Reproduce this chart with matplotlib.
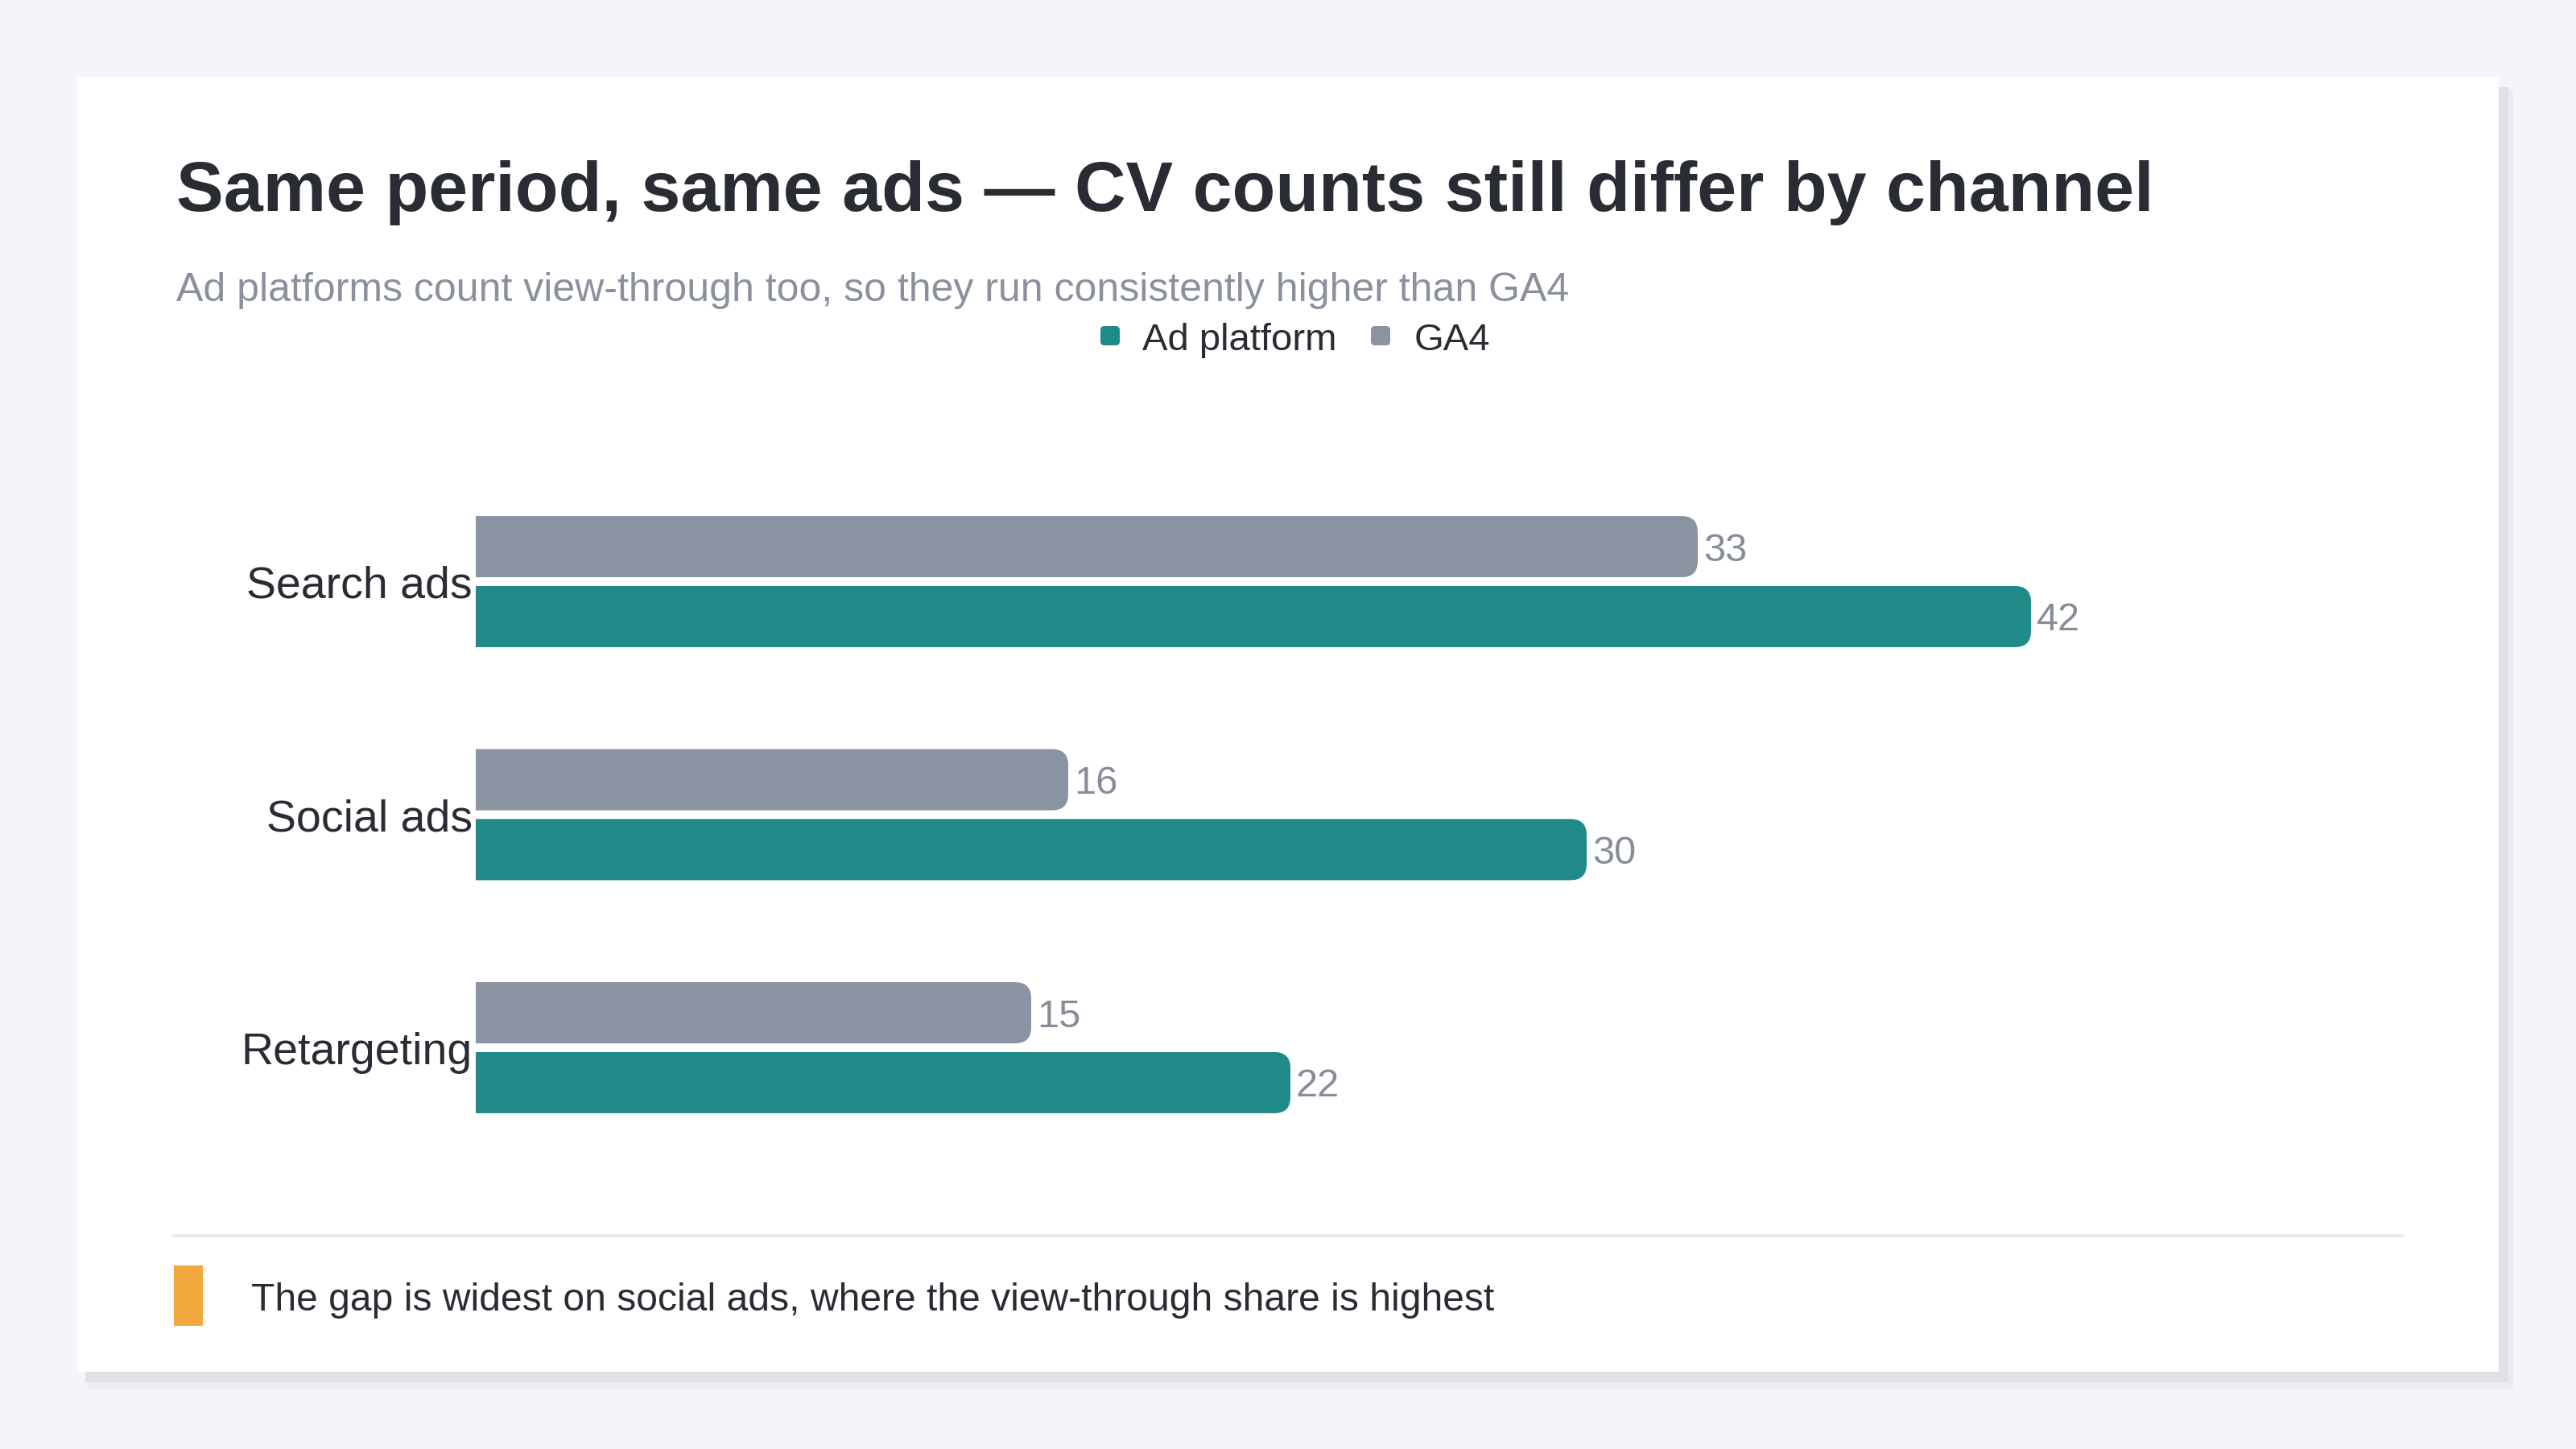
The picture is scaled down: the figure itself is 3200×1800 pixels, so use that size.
import matplotlib
matplotlib.use("Agg")
import matplotlib.pyplot as plt
from matplotlib.patches import FancyBboxPatch, Rectangle
from matplotlib.transforms import IdentityTransform
from matplotlib.lines import Line2D

# ---- data ----
categories = ["Search ads", "Social ads", "Retargeting"]
ad_platform = [42, 30, 22]
ga4 = [33, 16, 15]
series_names = ["Ad platform", "GA4"]

title = "Same period, same ads \u2014 CV counts still differ by channel"
subtitle = "Ad platforms count view-through too, so they run consistently higher than GA4"
footnote = "The gap is widest on social ads, where the view-through share is highest"

# ---- style ----
BG = "#f3f5f9"
CARD = "#ffffff"
TEAL = "#1f8a87"
GRAY = "#8a93a2"
DARK = "#2a2c33"
SUB = "#8a909c"
VAL = "#868c98"
ORANGE = "#f2a93b"
FONT = "Liberation Sans"

plt.rcParams["font.family"] = [FONT, "DejaVu Sans"]

W, H = 3200, 1800
fig = plt.figure(figsize=(W / 100, H / 100), dpi=100)
fig.patch.set_facecolor(BG)
ID = IdentityTransform()


def px_rect(x0, y0_top, x1, y1_top, **kw):
    """Rectangle in pixel coords measured from the top-left."""
    return Rectangle((x0, H - y1_top), x1 - x0, y1_top - y0_top, transform=ID, **kw)


# card shadow + card
fig.patches.append(px_rect(110, 112, 3122, 1726, facecolor="#e9ebf0", edgecolor="none", zorder=0))
fig.patches.append(px_rect(106, 108, 3116, 1717, facecolor="#dfe1e7", edgecolor="none", zorder=0.5))
fig.patches.append(px_rect(96, 96, 3104, 1704, facecolor=CARD, edgecolor="none", zorder=1))

# titles
fig.text(219 / W, 1 - 262 / H, title, fontsize=63.4, fontweight="bold", color=DARK,
         va="baseline", ha="left", zorder=3)
fig.text(219 / W, 1 - 374 / H, subtitle, fontsize=36, color=SUB,
         va="baseline", ha="left", zorder=3)

# legend (custom, centered)
legend_items = [(series_names[0], TEAL, 1367, 1419), (series_names[1], GRAY, 1703, 1757)]
for name, col, mx, tx in legend_items:
    fig.patches.append(FancyBboxPatch((mx, H - 429), 24, 24,
                                      boxstyle="round,pad=0,rounding_size=5",
                                      transform=ID, facecolor=col, edgecolor="none", zorder=3))
    fig.text(tx / W, 1 - 435 / H, name, fontsize=34, color=DARK, va="baseline", ha="left", zorder=3)

# ---- bar axes ----
ax_left, ax_right = 591, 2983
ax_top, ax_bot = 577.75, 1446.25
ax = fig.add_axes([ax_left / W, 1 - ax_bot / H, (ax_right - ax_left) / W, (ax_bot - ax_top) / H])
ax.set_facecolor("none")
ax.set_zorder(2)
xmax = 52
ax.set_xlim(0, xmax)
ax.set_ylim(len(categories) - 0.5, -0.5)

ypos = list(range(len(categories)))
bh = 0.2625
off = 0.150
bars_ga4 = ax.barh([y - off for y in ypos], ga4, height=bh, color=GRAY)
bars_ad = ax.barh([y + off for y in ypos], ad_platform, height=bh, color=TEAL)

px_per_x = (ax_right - ax_left) / xmax
px_per_y = (ax_bot - ax_top) / len(categories)
aspect = px_per_x / px_per_y
radius_px = 20
r = radius_px / px_per_x

for bars, col, vals in [(bars_ga4, GRAY, ga4), (bars_ad, TEAL, ad_platform)]:
    for rect, v in zip(bars, vals):
        x, y, w, h = rect.get_x(), rect.get_y(), rect.get_width(), rect.get_height()
        rect.set_visible(False)
        p = FancyBboxPatch((x - 1, y), w + 1, h,
                           boxstyle=f"round,pad=0,rounding_size={r}",
                           mutation_aspect=aspect, facecolor=col, edgecolor="none")
        ax.add_patch(p)
        ax.annotate(f"{v}", xy=(x + w, y + h / 2), xytext=(5, 0), textcoords="offset points",
                    va="center_baseline", ha="left", fontsize=35, color=VAL, annotation_clip=False)

ax.set_yticks(ypos)
ax.set_yticklabels(categories, fontsize=40, color=DARK)
ax.tick_params(axis="y", length=0, pad=3)
ax.set_xticks([])
for s in ax.spines.values():
    s.set_visible(False)

# separator + footnote
fig.lines.append(Line2D([216, 2984], [H - 1535, H - 1535], transform=ID, color="#e8eaee",
                        linewidth=2.9, zorder=3))
fig.patches.append(px_rect(216, 1572, 252, 1647, facecolor=ORANGE, edgecolor="none", zorder=3))
fig.text(312 / W, 1 - 1628 / H, footnote, fontsize=34.6, color=DARK, va="baseline", ha="left", zorder=3)

fig.savefig("out.png", dpi=100, facecolor=BG)
